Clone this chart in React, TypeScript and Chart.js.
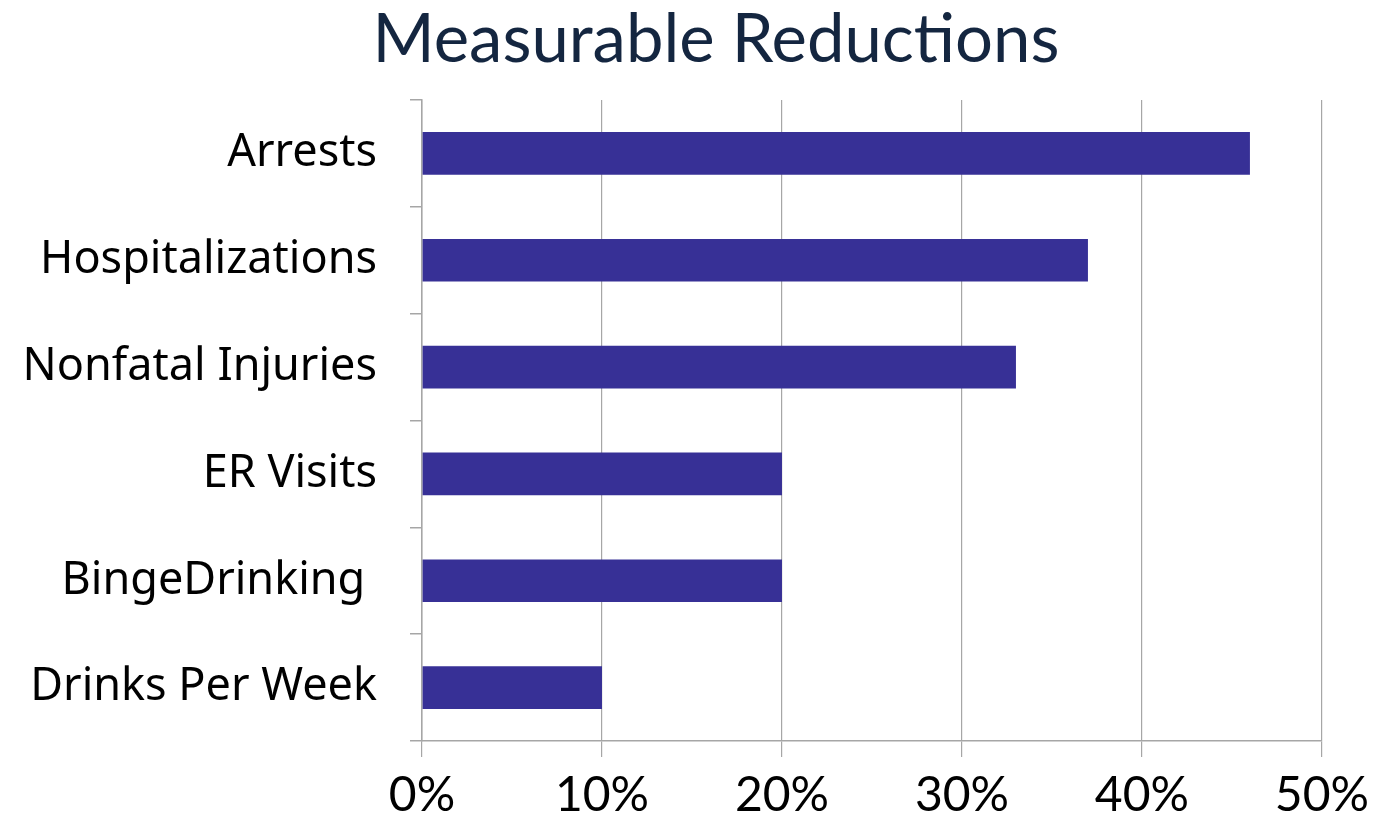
import React, { useEffect, useRef } from "react";
import { Chart, registerables } from "chart.js";

Chart.register(...registerables);

const TITLE = "Measurable Reductions";
const categories = ["Arrests", "Hospitalizations", "Nonfatal Injuries", "ER Visits", "BingeDrinking ", "Drinks Per Week"];
const reductions = [46, 37, 33, 20, 20, 10];
const xTicks = [0, 10, 20, 30, 40, 50];

const FONT = "Lato, 'Noto Sans', sans-serif";
const LABEL_FONT = "'Noto Sans', Lato, sans-serif";

const titlePlugin = {
  id: "customTitle",
  afterDraw(chart: any) {
    const ctx = chart.ctx;
    ctx.save();
    ctx.font = `400 67px ${FONT}`;
    ctx.fillStyle = "#142640";
    ctx.textAlign = "center";
    ctx.textBaseline = "alphabetic";
    ctx.fillText(TITLE, 716, 62);
    ctx.restore();
  },
};

export default function App() {
  const ref = useRef<HTMLCanvasElement | null>(null);
  useEffect(() => {
    if (!ref.current) return;
    const chart = new Chart(ref.current, {
      type: "bar",
      data: {
        labels: categories,
        datasets: [
          {
            data: reductions,
            backgroundColor: "#373096",
            borderWidth: 0,
            categoryPercentage: 1,
            barPercentage: 0.4,
          },
        ],
      },
      options: {
        indexAxis: "y",
        responsive: false,
        animation: false,
        layout: { padding: { top: 100, right: 55, left: 0, bottom: 0 } },
        plugins: { legend: { display: false }, title: { display: false }, tooltip: { enabled: false } },
        scales: {
          x: {
            min: 0,
            max: 50,
            afterFit: (s: any) => { s.height = 85; },
            afterBuildTicks: (s: any) => { s.ticks = xTicks.map((v) => ({ value: v })); },
            ticks: {
              callback: (v: any) => `${v}%`,
              color: "#000",
              font: { family: FONT, size: 48 },
              padding: 10,
              maxRotation: 0,
            },
            grid: { color: "#a6a6a6", lineWidth: 1.2, tickLength: 16, drawTicks: true },
            border: { display: true, color: "#a6a6a6", width: 1.5 },
          },
          y: {
            afterFit: (s: any) => { s.width = 422; },
            ticks: {
              color: "#000",
              font: { family: LABEL_FONT, size: 45 },
              padding: 33,
            },
            grid: { color: "#a6a6a6", lineWidth: 1.5, tickLength: 12, drawOnChartArea: false, drawTicks: true, offset: true },
            border: { display: true, color: "#a6a6a6", width: 1.5 },
          },
        },
      },
      plugins: [titlePlugin],
    });
    return () => chart.destroy();
  }, []);
  return (
    <div style={{ position: "fixed", left: 0, top: 0, width: 1379, height: 826, background: "#fff" }}>
      <canvas ref={ref} width={1379} height={826} style={{ width: 1379, height: 826, display: "block" }} />
    </div>
  );
}
